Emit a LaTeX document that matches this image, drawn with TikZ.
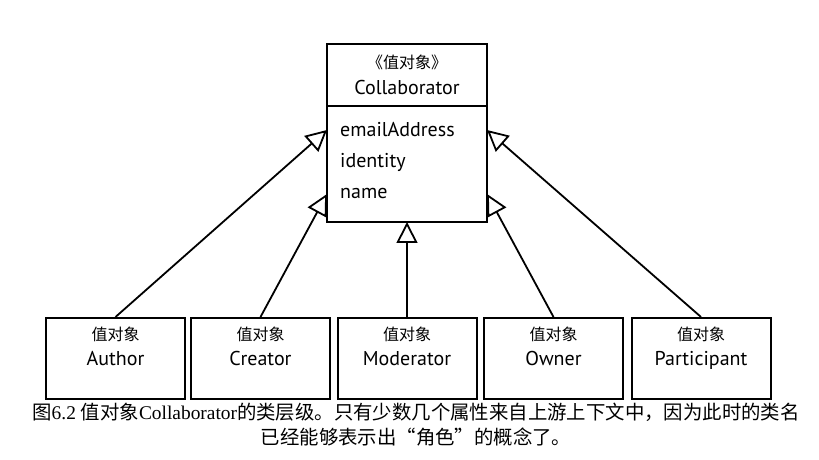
\documentclass[tikz,border=0pt]{standalone}
\usepackage{fontspec}
\setmainfont{Liberation Serif}
\newfontfamily\cjk{Noto Sans CJK SC}
\newfontfamily\umlfont{PT Sans}
\usetikzlibrary{arrows.meta,positioning}

\begin{document}
\begin{tikzpicture}[x=1pt,y=1pt,
  classbox/.style={draw, line width=2pt, minimum width=139pt, minimum height=81pt, font=\umlfont\fontsize{20}{24}\selectfont, text height=14pt, text depth=0pt},
  stereo/.style={font=\cjk\fontsize{16}{18}\selectfont, anchor=base},
  attr/.style={font=\umlfont\fontsize{20}{24}\selectfont, anchor=base west, inner sep=0pt},
  inherit/.style={-{Triangle[open,length=21pt,width=21pt]}, line width=1.8pt}]
  \useasboundingbox (0,0) rectangle (819,460);

  % Value object Collaborator
  \node[draw, line width=2pt, outer sep=0pt, minimum width=160pt, minimum height=62pt, align=center, font=\umlfont\fontsize{20}{26}\selectfont] (collab) at (407,385) {{\cjk\fontsize{16}{26}\selectfont 《值对象》}\\Collaborator};
  \node[draw, line width=2pt, outer sep=0pt, minimum width=160pt, minimum height=116pt, below=0pt of collab] (attrs) {};

  % Attributes
  \node[attr] (email) at (340,323) {emailAddress};
  \node[attr] (identity) at (340,292) {identity};
  \node[attr] (attrname) at (340,261) {name};

  % Subclasses
  \node[classbox] (author) at (115.5,101.5) {Author};
  \node[stereo] (author-st) at ([yshift=25pt]author.base) {值对象};

  \node[classbox] (creator) at (260.5,101.5) {Creator};
  \node[stereo] (creator-st) at ([yshift=25pt]creator.base) {值对象};

  \node[classbox] (moderator) at (407,101.5) {Moderator};
  \node[stereo] (moderator-st) at ([yshift=25pt]moderator.base) {值对象};

  \node[classbox] (owner) at (553.5,101.5) {Owner};
  \node[stereo] (owner-st) at ([yshift=25pt]owner.base) {值对象};

  \node[classbox] (participant) at (701,101.5) {Participant};
  \node[stereo] (participant-st) at ([yshift=25pt]participant.base) {值对象};

  % Generalisation arrows
  \draw[inherit] (author.north) -- (attrs.west |- email);
  \draw[inherit] (creator.north) -- (attrs.west |- attrname);
  \draw[inherit] (moderator.north) -- (attrs.south);
  \draw[inherit] (owner.north) -- (attrs.east |- attrname);
  \draw[inherit] (participant.north) -- (attrs.east |- email);

  % Caption
  \node[align=center, font=\fontsize{19.4}{25}\selectfont] (caption) at (416,35) {{\cjk 图}6.2 {\cjk 值对象}Collaborator{\cjk 的类层级。只有少数几个属性来自上游上下文中，因为此时的类名}\\{\cjk 已经能够表示出“角色”的概念了。}};
\end{tikzpicture}
\end{document}
